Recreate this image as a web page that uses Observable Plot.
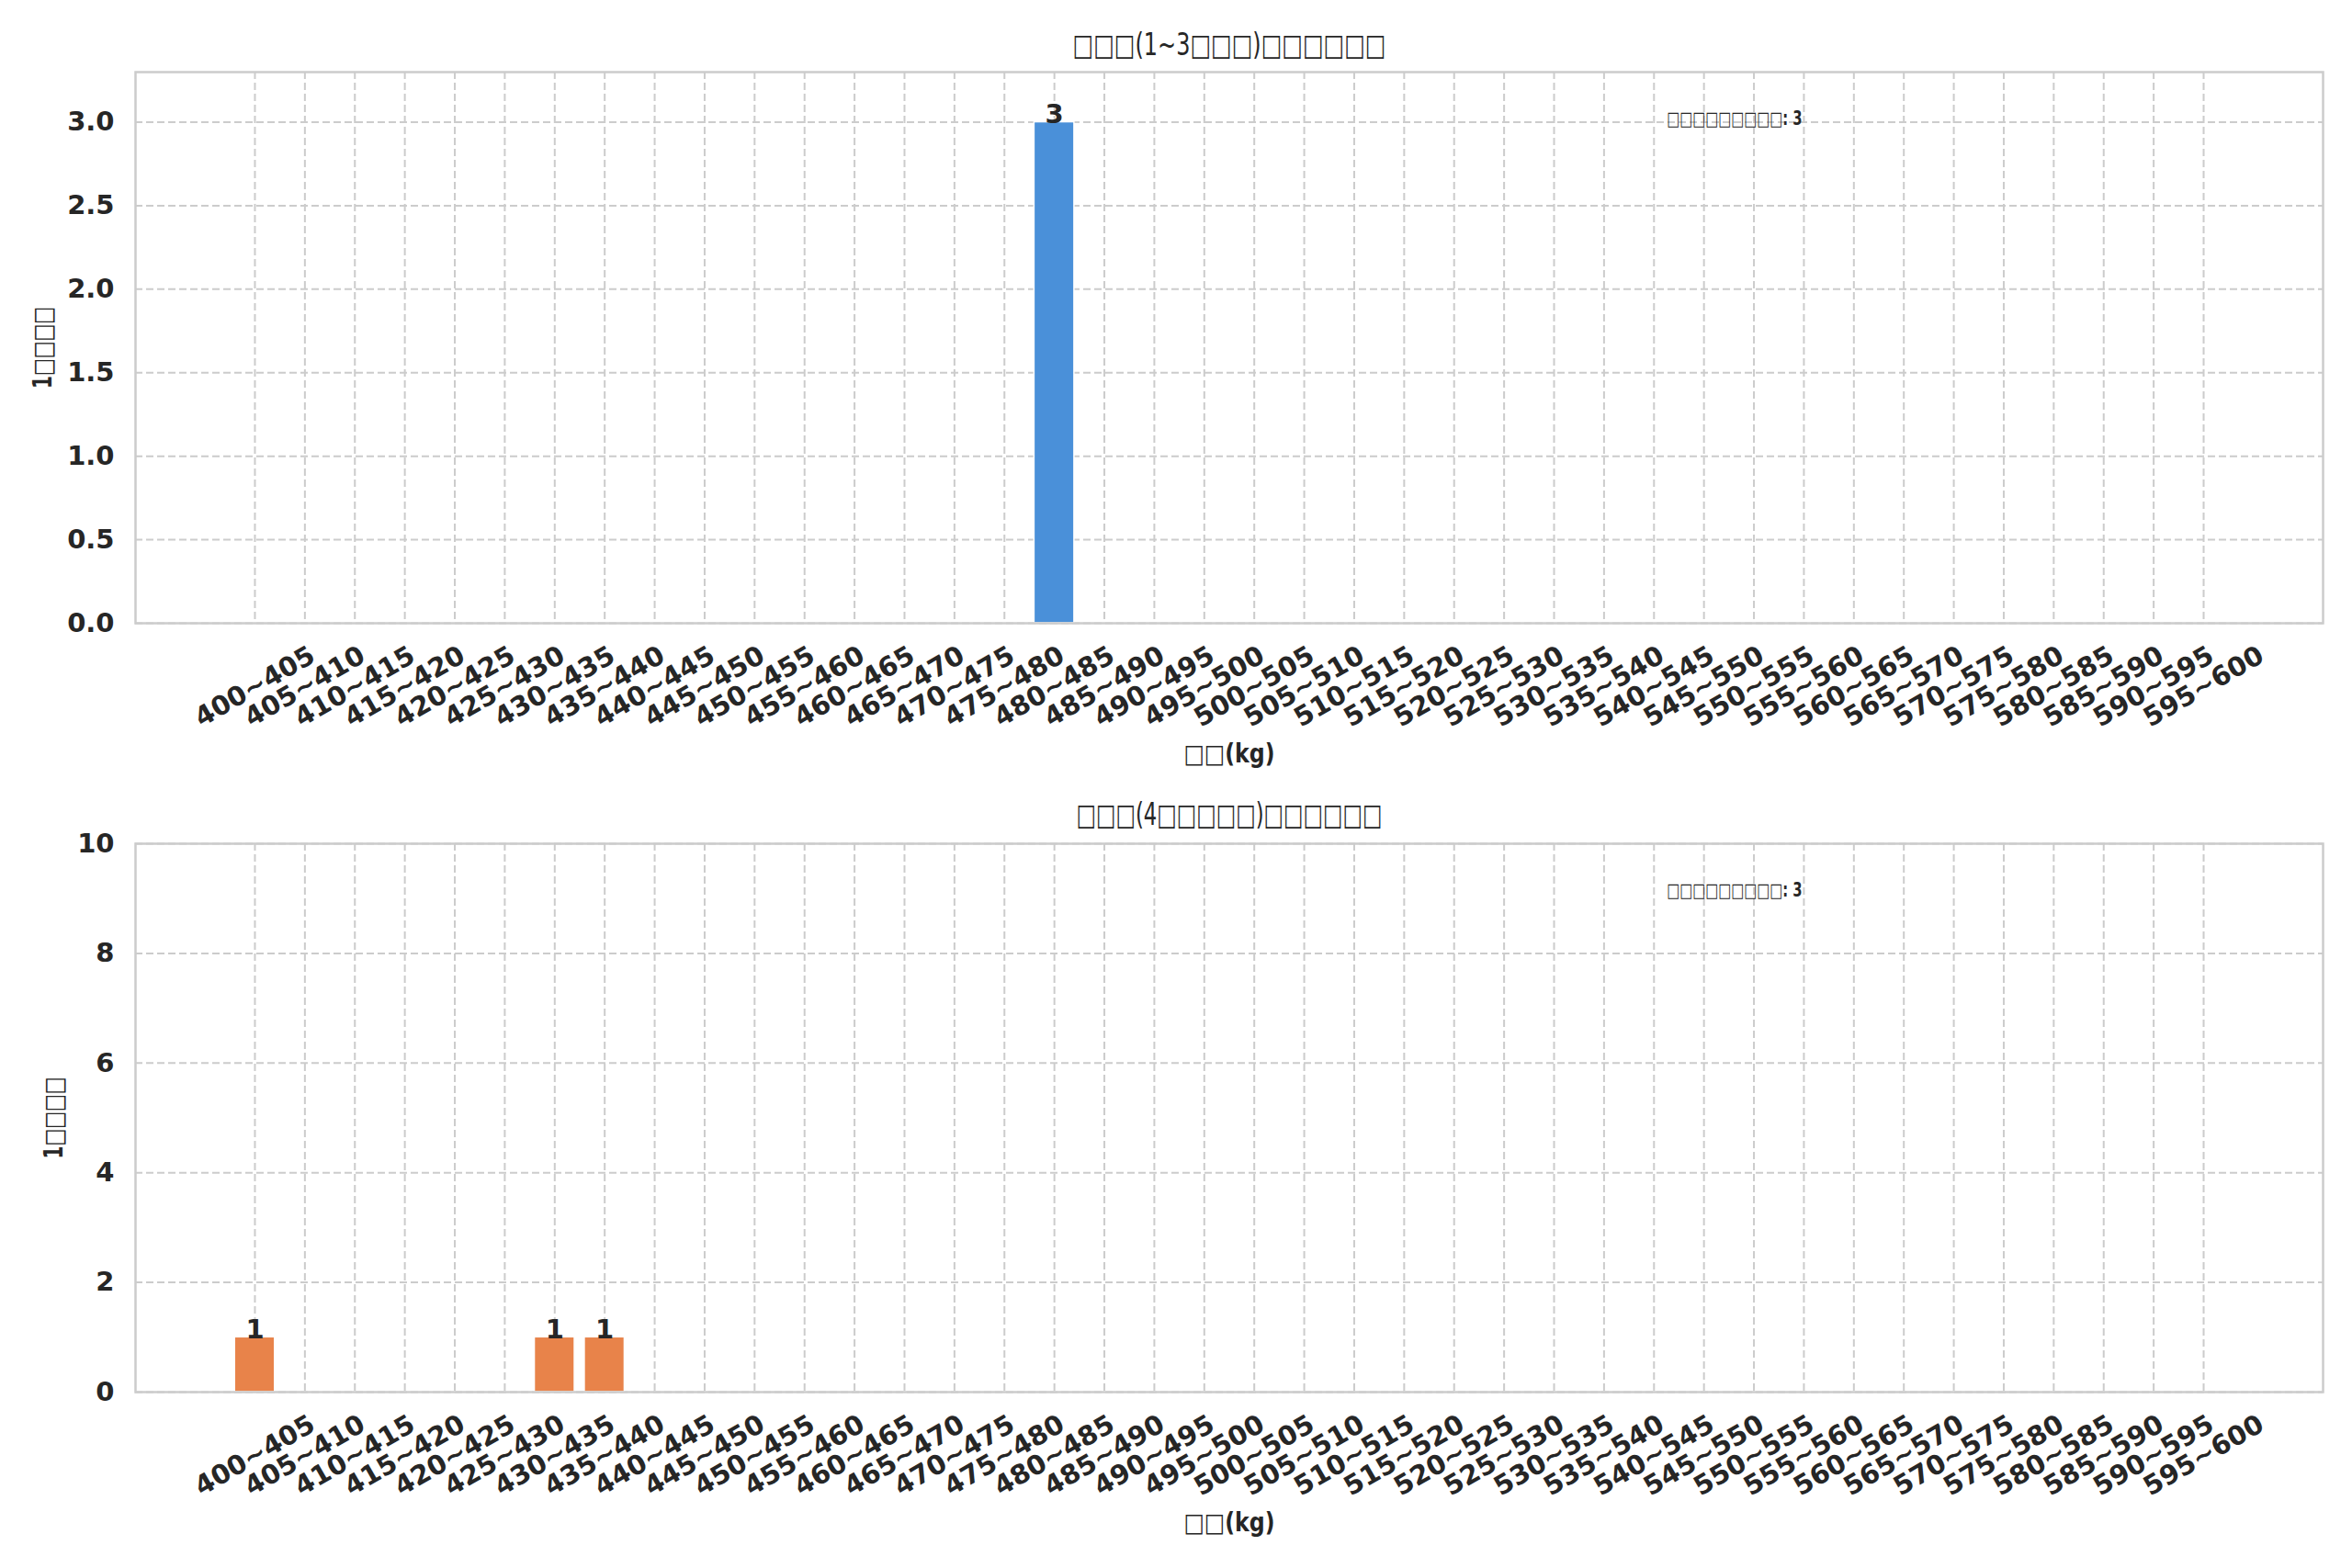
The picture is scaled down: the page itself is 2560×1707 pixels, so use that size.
<!DOCTYPE html>
<html>
<head>
<meta charset="utf-8">
<script src="https://cdn.jsdelivr.net/npm/d3@7"></script>
<script src="https://cdn.jsdelivr.net/npm/@observablehq/plot@0.6"></script>
<style>
  html, body { margin: 0; padding: 0; background: #ffffff; }
  #chart { width: 2560px; }
  #chart svg { display: block; }
</style>
</head>
<body>
<div id="chart"></div>
<script>
// ---- data ----
const binLabels = [
  "400~405","405~410","410~415","415~420","420~425","425~430","430~435","435~440",
  "440~445","445~450","450~455","455~460","460~465","465~470","470~475","475~480",
  "480~485","485~490","490~495","495~500","500~505","505~510","510~515","515~520",
  "520~525","525~530","530~535","535~540","540~545","545~550","550~555","555~560",
  "560~565","565~570","570~575","575~580","580~585","585~590","590~595","595~600"
];
const youngCounts = [
  0,0,0,0,0,0,0,0, 0,0,0,0,0,0,0,0,
  3,0,0,0,0,0,0,0, 0,0,0,0,0,0,0,0,
  0,0,0,0,0,0,0,0
];
const olderCounts = [
  1,0,0,0,0,0,1,1, 0,0,0,0,0,0,0,0,
  0,0,0,0,0,0,0,0, 0,0,0,0,0,0,0,0,
  0,0,0,0,0,0,0,0
];
const youngTicks = [0, 0.5, 1.0, 1.5, 2.0, 2.5, 3.0];
const olderTicks = [0, 2, 4, 6, 8, 10];
// The reference shows these labels as missing-glyph boxes; they are kept as box characters.
const youngTitle = "□□□(1~3□□□)□□□□□□";
const olderTitle = "□□□(4□□□□□)□□□□□□";
const xLabel = "□□(kg)";
const yLabel = "1□□□□";
const youngNote = "□□□□□□□□□: 3";
const olderNote = "□□□□□□□□□: 3";

// ---- drawing ----
const W = 2560, mL = 147, mR = 32;
const frameW = W - mL - mR;
const FONT = "DejaVu Sans";
const INK = "#262626";
const GRID = "#cccccc";

function panel({counts, color, yDomain, yTicks, yFormat, title, note, height, marginTop, marginBottom, titleDy, ylabelDx}) {
  const rows = binLabels.map((label, i) => ({i, label, count: counts[i]}));
  const bars = rows.filter(d => d.count > 0);
  return Plot.plot({
    width: W,
    height,
    marginLeft: mL,
    marginRight: mR,
    marginTop,
    marginBottom,
    style: {fontFamily: FONT, color: INK, background: "#ffffff"},
    x: {type: "linear", domain: [-2.39, binLabels.length - 1 + 2.39], axis: null},
    y: {domain: yDomain, axis: null},
    marks: [
      Plot.gridX(rows.map(d => d.i), {stroke: GRID, strokeOpacity: 1, strokeWidth: 2, strokeDasharray: "8,4"}),
      Plot.gridY(yTicks, {stroke: GRID, strokeOpacity: 1, strokeWidth: 2, strokeDasharray: "8,4"}),
      Plot.rectY(bars, {
        x1: d => d.i - 0.4, x2: d => d.i + 0.4, y1: 0, y2: "count",
        fill: color, stroke: "#ffffff", strokeWidth: 1.5
      }),
      Plot.frame({stroke: GRID, strokeWidth: 2.5}),
      Plot.axisY(yTicks, {
        anchor: "left", tickSize: 0, tickPadding: 23, label: null,
        tickFormat: yFormat, fontSize: 29, fontWeight: "bold", fill: INK
      }),
      Plot.text(rows, {
        x: "i", text: "label", frameAnchor: "bottom", dy: 69, rotate: -30,
        textAnchor: "middle", lineAnchor: "middle",
        fontSize: 29, fontWeight: "bold", fill: INK
      }),
      Plot.text(bars, {
        x: "i", y: "count", text: d => String(d.count), lineAnchor: "bottom", dy: 1,
        fontSize: 29, fontWeight: "bold", fill: INK
      }),
      Plot.text([title], {
        text: d => d, frameAnchor: "top", dy: titleDy, textAnchor: "middle", lineAnchor: "middle",
        fontSize: 33, fill: INK
      }),
      Plot.text([xLabel], {
        text: d => d, frameAnchor: "bottom", dy: 143, textAnchor: "middle", lineAnchor: "middle",
        fontSize: 28, fontWeight: "bold", fill: INK
      }),
      Plot.text([yLabel], {
        text: d => d, frameAnchor: "left", dx: ylabelDx, rotate: -90,
        textAnchor: "middle", lineAnchor: "middle",
        fontSize: 28, fontWeight: "bold", fill: INK
      }),
      Plot.text([note], {
        text: d => d, frameAnchor: "top-left", dx: 0.7 * frameW, dy: 51,
        textAnchor: "start", lineAnchor: "middle",
        fontSize: 21, fontWeight: "bold", fill: INK
      })
    ]
  });
}

// fit texts containing box characters to the narrower width of the reference's placeholder glyphs
function fitBoxTexts(svg) {
  svg.querySelectorAll("text").forEach(el => {
    if (el.querySelector("tspan")) return;
    const s = el.textContent;
    const n = (s.match(/□/g) || []).length;
    if (!n) return;
    const fs = parseFloat(getComputedStyle(el).fontSize) || 20;
    el.textContent = s.replace(/□/g, "");
    const rest = el.getComputedTextLength();
    el.textContent = s;
    const target = rest + n * 0.62 * fs;
    if (target < el.getComputedTextLength()) {
      el.setAttribute("textLength", target.toFixed(1));
      el.setAttribute("lengthAdjust", "spacingAndGlyphs");
    }
  });
}

const chartEl = document.getElementById("chart");
const youngPanel = panel({
  counts: youngCounts, color: "#4a90d9",
  yDomain: [0, 3.3], yTicks: youngTicks, yFormat: d3.format(".1f"),
  title: youngTitle, note: youngNote,
  height: 853, marginTop: 78, marginBottom: 175, titleDy: -29, ylabelDx: -100
});
const olderPanel = panel({
  counts: olderCounts, color: "#e8834a",
  yDomain: [0, 10], yTicks: olderTicks, yFormat: d3.format("d"),
  title: olderTitle, note: olderNote,
  height: 854, marginTop: 65, marginBottom: 192, titleDy: -31, ylabelDx: -88
});
chartEl.append(youngPanel, olderPanel);
try { fitBoxTexts(youngPanel); fitBoxTexts(olderPanel); } catch (e) { console.error(e); }
</script>
</body>
</html>
